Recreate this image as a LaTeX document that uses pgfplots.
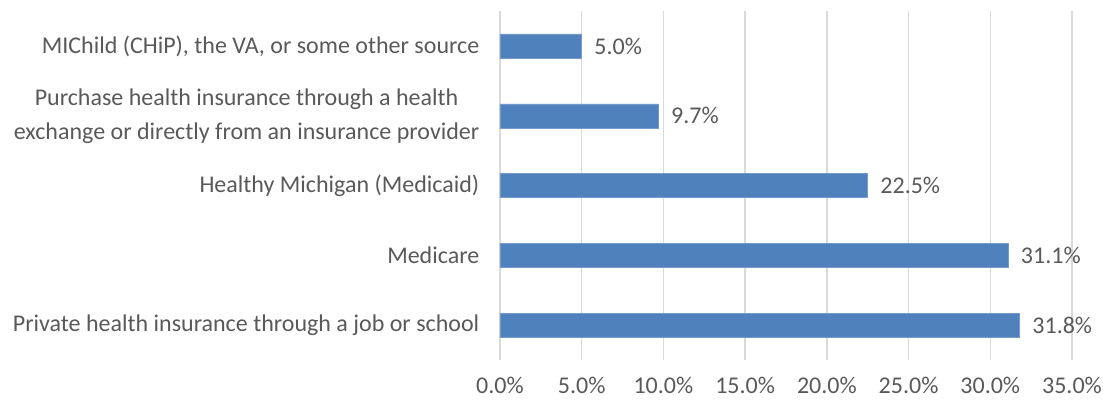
\documentclass[border=0pt]{standalone}
\usepackage{pgfplots}
\pgfplotsset{compat=1.18}
\usepackage{fontspec}
\setmainfont{Carlito}
\definecolor{barblue}{HTML}{4F81BD}
\definecolor{txtgray}{HTML}{595959}
\definecolor{gridgray}{HTML}{D9D9D9}
\begin{document}
\begin{tikzpicture}[x=1pt,y=1pt]
% invisible frame to fix picture size 1103x403 px (0.75pt per px)
\path[use as bounding box] (0,0) rectangle (827.25,302.25);
\begin{axis}[
  at={(375pt,32pt)}, anchor=south west,
  xbar, scale only axis,
  width=429pt, height=262pt,
  xmin=0, xmax=35,
  ymin=-0.5, ymax=4.5,
  bar width=18pt,
  xtick={0,5,...,35},
  xticklabel={\pgfmathprintnumber[fixed,fixed zerofill,precision=1]{\tick}\%},
  ytick={0,1,2,3,4},
  yticklabels={
    Private health insurance through a job or school,
    Medicare,
    Healthy Michigan (Medicaid),
    {Purchase health insurance through a health\\exchange or directly from an insurance provider},
    {MIChild (CHiP), the VA, or some other source}},
  yticklabel style={align=center, font=\fontsize{18}{25.5}\selectfont, text=txtgray, xshift=-12pt},
  xticklabel style={font=\fontsize{18}{21}\selectfont, text=txtgray, yshift=-9pt},
  /pgf/number format/assume math mode=true,
  axis line style={draw=none},
  major tick length=0pt,
  xmajorgrids, grid style={gridgray, line width=1pt},
  nodes near coords={\pgfmathprintnumber[fixed,fixed zerofill,precision=1]{\pgfplotspointmeta}\%},
  nodes near coords style={font=\fontsize{18}{21}\selectfont, text=txtgray, anchor=west, xshift=6pt},
  point meta=explicit,
]
\addplot[fill=barblue, draw=barblue!80!white] coordinates {
  (31.8,0) [31.8]
  (31.1,1) [31.1]
  (22.5,2) [22.5]
  (9.7,3) [9.7]
  (5.0,4) [5.0]
};
\end{axis}
\end{tikzpicture}
\end{document}
